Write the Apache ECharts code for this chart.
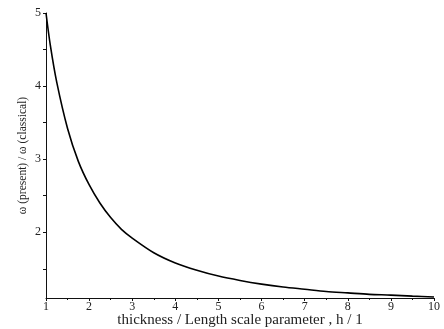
<!DOCTYPE html>
<html>
<head>
<meta charset="utf-8">
<script src="https://cdn.jsdelivr.net/npm/echarts@6/dist/echarts.min.js"></script>
<style>html,body{margin:0;padding:0;background:#fff}#c{width:444px;height:329px}</style>
</head>
<body>
<div id="c"></div>
<script>
// Data
const hValues = [1, 1.1, 1.25, 1.5, 1.75, 2, 2.25, 2.5, 2.75, 3, 3.5, 4, 4.5, 5, 5.5, 6, 6.5, 7, 7.5, 8, 8.5, 9, 9.5, 10];
const ratioValues = [5.0, 4.56, 4.05, 3.42, 2.97, 2.65, 2.40, 2.20, 2.04, 1.92, 1.72, 1.58, 1.48, 1.40, 1.34, 1.29, 1.25, 1.22, 1.19, 1.17, 1.15, 1.14, 1.125, 1.114];
const yTickLabels = [2, 3, 4, 5];
const yTicks = [1.5, 2, 2.5, 3, 3.5, 4, 4.5, 5];
const xTitle = 'thickness / Length scale parameter , h / 1';
const yTitle = 'ω (present) / ω (classical)';

const font = 'Liberation Serif';
const chart = echarts.init(document.getElementById('c'));
chart.setOption({
  animation: false,
  backgroundColor: '#fff',
  grid: { left: 46, right: 10, top: 13, bottom: 31, containLabel: false, outerBoundsMode: 'none' },
  xAxis: {
    type: 'value', min: 1, max: 10, interval: 1,
    name: xTitle, nameLocation: 'middle', nameGap: 15, nameMoveOverlap: false,
    nameTextStyle: { fontFamily: font, fontSize: 15, color: '#222' },
    axisLine: { lineStyle: { color: '#111', width: 1 } },
    axisTick: { show: true, inside: false, length: 3, lineStyle: { color: '#111' } },
    minorTick: { show: true, splitNumber: 2, length: 2, lineStyle: { color: '#111' } },
    axisLabel: { fontFamily: font, fontSize: 12, color: '#222', margin: 3 },
    splitLine: { show: false }
  },
  yAxis: {
    type: 'value', min: 1.1, max: 5,
    name: yTitle, nameLocation: 'middle', nameGap: 17, nameRotate: 90, nameMoveOverlap: false,
    nameTextStyle: { fontFamily: font, fontSize: 11.5, color: '#222' },
    axisLine: { show: true, lineStyle: { color: '#111', width: 1 } },
    axisTick: { show: true, inside: false, length: 3, customValues: yTicks, lineStyle: { color: '#111' } },
    axisLabel: { fontFamily: font, fontSize: 12, color: '#222', margin: 5, customValues: yTickLabels },
    splitLine: { show: false }
  },
  series: [{
    type: 'line',
    data: hValues.map((h, i) => [h, ratioValues[i]]),
    smooth: 0.3,
    showSymbol: false,
    lineStyle: { color: '#000', width: 1.6 }
  }]
});
</script>
</body>
</html>
